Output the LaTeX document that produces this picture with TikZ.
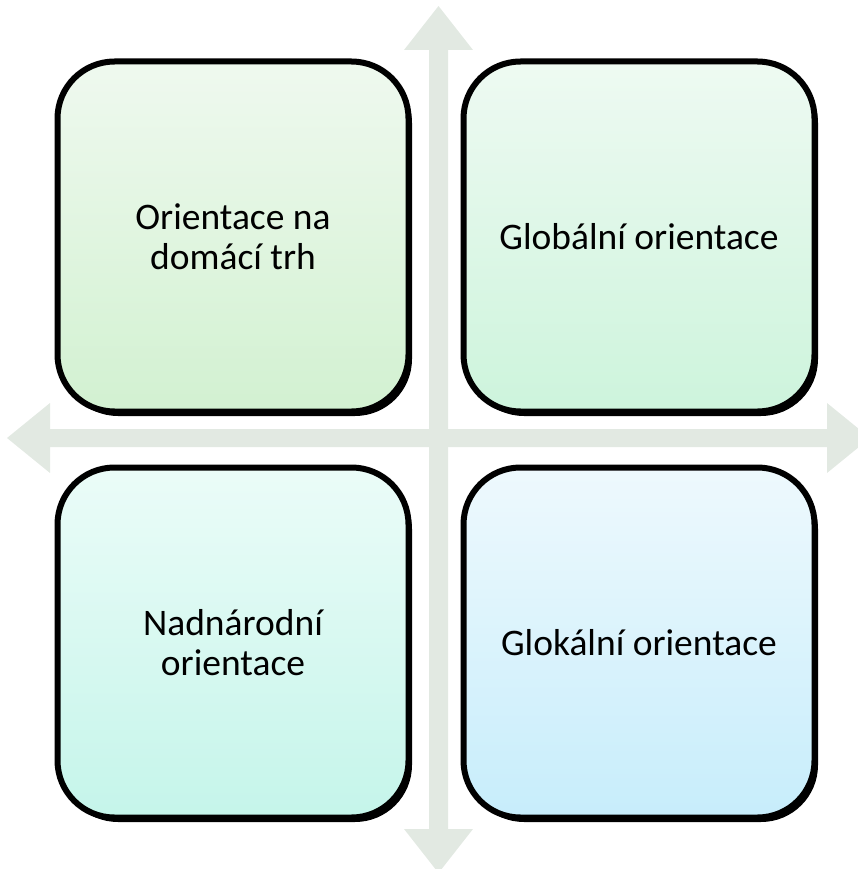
\documentclass[tikz,border=0pt]{standalone}
\usepackage{fontspec}
\setmainfont{Carlito}
\usetikzlibrary{shadows}
\definecolor{arrowc}{HTML}{E2E9E2}
\definecolor{tlTop}{HTML}{EFF9EF}
\definecolor{tlBot}{HTML}{D2F1D1}
\definecolor{trTop}{HTML}{EEFAF2}
\definecolor{trBot}{HTML}{CDF4DC}
\definecolor{blTop}{HTML}{EBFCF8}
\definecolor{blBot}{HTML}{C5F5EA}
\definecolor{brTop}{HTML}{EEF9FD}
\definecolor{brBot}{HTML}{C7EDFB}
\tikzset{
  quad/.style={draw=black, line width=6pt, rounded corners=57pt,
    minimum width=351pt, minimum height=350pt, inner sep=0pt,
    align=center, font=\fontsize{37.5}{40}\selectfont,
    drop shadow={shadow xshift=3.5pt, shadow yshift=-4.5pt, opacity=1, fill=black}},
  crossarrow/.style={fill=arrowc, draw=none}
}
\begin{document}
\begin{tikzpicture}[x=1pt,y=-1pt]
\useasboundingbox (0,0) rectangle (858,869);
\clip (0,0) rectangle (858,869);
% vertical double arrow
\fill[crossarrow] (438.5,6) -- (473,50) -- (448,50) -- (448,829) -- (473,829)
  -- (438.5,873) -- (404,829) -- (429,829) -- (429,50) -- (404,50) -- cycle;
% horizontal double arrow
\fill[crossarrow] (7,438) -- (50,403) -- (50,429) -- (827,429) -- (827,403)
  -- (870,438) -- (827,473) -- (827,447) -- (50,447) -- (50,473) -- cycle;
% boxes
\node[quad, top color=tlTop, bottom color=tlBot] (tl) at (233,236.5) {Orientace na\\domácí trh};
\node[quad, top color=trTop, bottom color=trBot] (tr) at (639,236.5) {Globální orientace};
\node[quad, top color=blTop, bottom color=blBot] (bl) at (233,642.5) {Nadnárodní\\orientace};
\node[quad, top color=brTop, bottom color=brBot] (br) at (639,642.5) {Glokální orientace};
\end{tikzpicture}
\end{document}
